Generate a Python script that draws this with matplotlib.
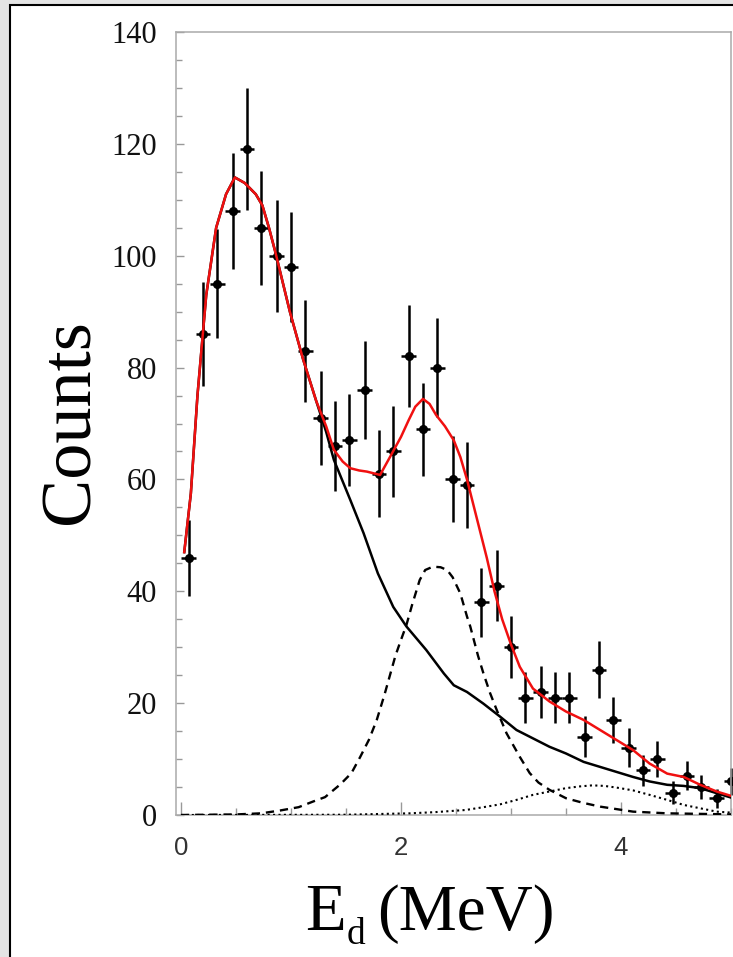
import matplotlib
matplotlib.use('Agg')
import matplotlib.pyplot as plt
from matplotlib.patches import Rectangle
from matplotlib.ticker import MultipleLocator

plt.rcParams['font.family'] = ['Liberation Serif', 'DejaVu Serif']

# measured spectrum (bin centres in MeV, counts, stat. errors)
energy = [0.07, 0.20, 0.33, 0.47, 0.60, 0.73, 0.87, 1.00, 1.13, 1.27,
          1.40, 1.53, 1.67, 1.80, 1.93, 2.07, 2.20, 2.33, 2.47, 2.60,
          2.73, 2.87, 3.00, 3.13, 3.27, 3.40, 3.53, 3.67, 3.80, 3.93,
          4.07, 4.20, 4.33, 4.47, 4.60, 4.73, 4.87, 5.00]
counts = [46, 86, 95, 108, 119, 105, 100, 98, 83, 71,
          66, 67, 76, 61, 65, 82, 69, 80, 60, 59,
          38, 41, 30, 21, 22, 21, 21, 14, 26, 17,
          12, 8, 10, 4, 7, 5, 3, 6]
count_err = [6.8, 9.3, 9.7, 10.4, 10.9, 10.2, 10.0, 9.9, 9.1, 8.4,
             8.1, 8.2, 8.7, 7.8, 8.1, 9.1, 8.3, 8.9, 7.7, 7.7,
             6.2, 6.4, 5.5, 4.6, 4.7, 4.6, 4.6, 3.7, 5.1, 4.1,
             3.5, 2.8, 3.2, 2.0, 2.6, 2.2, 1.7, 2.4]
half_bin = 0.0667

# total fit (red)
total_x = [0.03, 0.09, 0.15, 0.23, 0.32, 0.41, 0.49, 0.58, 0.68, 0.74,
           0.80, 0.86, 0.99, 1.11, 1.23, 1.32, 1.39, 1.47, 1.54, 1.62,
           1.69, 1.81, 1.90, 2.00, 2.07, 2.13, 2.20, 2.26, 2.32, 2.40,
           2.48, 2.54, 2.60, 2.69, 2.78, 2.85, 2.92, 3.00, 3.08, 3.20,
           3.35, 3.50, 3.66, 3.81, 3.96, 4.11, 4.26, 4.42, 4.57, 4.72,
           4.87, 5.02]
total_y = [47, 57.5, 75, 93, 105, 111, 114, 113, 111, 109,
           105, 100.5, 90, 81.5, 74, 69.5, 65.3, 63.2, 62, 61.6,
           61.4, 60.8, 64, 67.6, 70.6, 73, 74.4, 73.5, 71.5, 69.5,
           67, 64, 60, 53, 46, 40, 35, 30.5, 26.5, 22.6,
           20.3, 18.5, 17, 15.2, 13.4, 11.6, 9.2, 7.4, 6.8, 5.4,
           4.2, 3.3]

# background (black solid)
bkg_x = [0.03, 0.09, 0.15, 0.23, 0.32, 0.41, 0.49, 0.58, 0.68, 0.74,
         0.80, 0.86, 0.99, 1.11, 1.23, 1.32, 1.39, 1.54, 1.66, 1.79,
         1.93, 2.05, 2.23, 2.39, 2.48, 2.60, 2.75, 2.90, 3.05, 3.20,
         3.35, 3.50, 3.66, 3.81, 3.96, 4.11, 4.26, 4.42, 4.57, 4.72,
         4.87, 5.02]
bkg_y = [47, 57.5, 75, 93, 105, 111, 114, 113, 111, 109,
         105, 100.5, 90, 81.5, 74, 68.5, 63.5, 56.3, 50.4, 43.2,
         37.2, 33.7, 29.5, 25.3, 23.2, 22, 19.9, 17.6, 15.2, 13.7,
         12.2, 11, 9.5, 8.6, 7.7, 6.8, 6.0, 5.4, 5.2, 4.8,
         3.9, 3.0]

# resonance peak (dashed)
peak_x = [0.0, 0.5, 0.73, 0.9, 1.07, 1.2, 1.31, 1.45, 1.55, 1.63,
          1.71, 1.78, 1.85, 1.90, 1.95, 2.00, 2.05, 2.10, 2.17, 2.22,
          2.29, 2.36, 2.42, 2.47, 2.54, 2.60, 2.63, 2.70, 2.75, 2.81,
          2.87, 2.96, 3.08, 3.17, 3.25, 3.35, 3.50, 3.65, 3.81, 4.11,
          4.42, 5.02]
peak_y = [0.0, 0.1, 0.3, 0.8, 1.4, 2.4, 3.2, 5.5, 7.5, 10.4,
          13.5, 17, 21.5, 25, 28.5, 31.3, 34, 37.5, 42, 43.8,
          44.4, 44.3, 43.8, 42.5, 39.6, 35.5, 33.7, 28.5, 25.3, 21.8,
          18.8, 14.6, 10.4, 7.5, 5.8, 4.5, 3.0, 2.2, 1.5, 0.6,
          0.3, 0.1]

# second bump (dotted)
bump_x = [0.0, 1.5, 2.08, 2.30, 2.59, 2.75, 2.90, 3.05, 3.20, 3.35,
          3.50, 3.62, 3.74, 3.85, 3.96, 4.11, 4.26, 4.42, 4.57, 4.72,
          4.87, 5.02]
bump_y = [0.0, 0.05, 0.3, 0.5, 0.9, 1.4, 1.9, 2.7, 3.6, 4.2,
          4.8, 5.1, 5.3, 5.2, 4.9, 4.4, 3.6, 2.7, 1.8, 1.2,
          0.6, 0.4]

W, H = 733, 957
fig = plt.figure(figsize=(W / 100, H / 100), dpi=100, facecolor='#e4e4e4')
fig.patches.append(Rectangle((9.5 / W, -0.05), 1.1, 1.05 - 5 / H,
                             transform=fig.transFigure, facecolor='white',
                             edgecolor='black', linewidth=1.5, zorder=-5))

ax = fig.add_axes([176 / W, 1 - 815 / H, 555 / W, 783 / H])
ax.set_facecolor('white')

ax.errorbar(energy, counts, yerr=count_err, xerr=half_bin, fmt='o', ms=5.5,
            color='black', elinewidth=1.8, capsize=0, zorder=2, clip_on=False)
ax.plot(peak_x, peak_y, color='black', lw=1.7, ls=(0, (3.5, 2.5)), zorder=3)
ax.plot(bump_x, bump_y, color='black', lw=1.5, ls=(0, (1, 1.6)), zorder=3)
ax.plot(bkg_x, bkg_y, color='black', lw=1.8, zorder=3)
ax.plot(total_x, total_y, color='#f01010', lw=1.8, zorder=4)

ax.set_xlim(-0.045, 5.0)
ax.set_ylim(0, 140)

ax.xaxis.set_major_locator(MultipleLocator(2))
ax.xaxis.set_minor_locator(MultipleLocator(0.5))
ax.yaxis.set_major_locator(MultipleLocator(20))
ax.yaxis.set_minor_locator(MultipleLocator(5))

for s in ax.spines.values():
    s.set_color('#aaaaaa')
    s.set_linewidth(1.1)

ax.tick_params(axis='y', which='major', direction='in', length=6, width=1,
               color='#999999', pad=13.7, labelsize=22, labelcolor='#111111')
ax.tick_params(axis='y', which='minor', direction='in', length=4, width=1,
               color='#999999')
ax.tick_params(axis='x', which='major', direction='in', length=9.4, width=1,
               color='#999999', pad=15, labelsize=18.5, labelcolor='#333333',
               labelfontfamily='Liberation Sans')
ax.tick_params(axis='x', which='minor', direction='in', length=5, width=1,
               color='#999999')

fig.text(88 / W, 1 - 422 / H, 'Counts', rotation=90, rotation_mode='anchor',
         ha='center', va='baseline', fontsize=52)

# x label built from pieces so the subscript sits low like the original
base_y = 1 - 930 / H
fig.text(305 / W, base_y, 'E', ha='left', va='baseline', fontsize=48)
fig.text(347 / W, 1 - 944 / H, 'd', ha='left', va='baseline', fontsize=27)
fig.text(377 / W, base_y, '(MeV)', ha='left', va='baseline', fontsize=47)

fig.savefig('out.png', dpi=100, facecolor=fig.get_facecolor())
